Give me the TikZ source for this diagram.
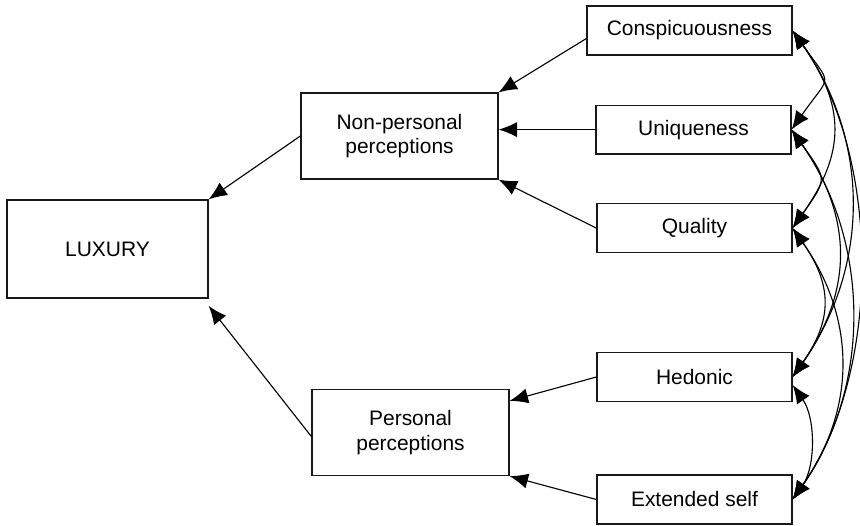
\documentclass[tikz,border=0pt]{standalone}
\usepackage{fontspec}
\setmainfont{Liberation Sans}
\usetikzlibrary{arrows.meta,positioning}
\tikzset{
  concept/.style={
    % The shape:
    rectangle,
    % The size:
    minimum width=4.925cm, minimum height=2.15cm,
    % The border:
    draw=black!90, line width=0.9pt,
    % Font
    font=\fontsize{14.9}{17.2}\selectfont, align=center
  },
  item/.style={
    % The shape:
    concept,
    % The size:
    minimum width=4.875cm, minimum height=1.22cm
  },
  corr/.style={draw, line width=0.8pt,
    {Latex[length=4.6mm,width=3.8mm]}-{Latex[length=4.6mm,width=3.8mm]}}
}
\tikzstyle{line} = [draw, line width=0.8pt, -{Latex[length=4.6mm,width=3.8mm]}]

\begin{document}
\begin{tikzpicture}
\useasboundingbox (-2.6875,6.225) rectangle (18.8125,-6.9);
\node [concept, minimum width=5.025cm, minimum height=2.45cm] (lux) {LUXURY};
\node [concept, right of=lux, node distance=7.3cm, yshift=2.825cm] (nonper) {Non-personal\\perceptions};
\node [concept, below of=nonper, node distance=7.4125cm, xshift=2.75mm] (per) {Personal\\perceptions};
\node [item, right of=nonper, node distance=7.25cm, yshift=2.6375cm, minimum width=5.125cm] (consp) {Conspicuousness};
\node [item, right of=nonper, node distance=7.35cm, yshift=1.6mm] (uniq) {Uniqueness};
\node [item, below of=uniq, node distance=2.4625cm, xshift=0.25mm] (qual) {Quality};
\node [item, right of=per, node distance=7.1cm, yshift=1.3875cm] (hed) {Hedonic};
\node [item, below of=hed, node distance=3.0625cm] (ext) {Extended self};
% Draw edges
\path [line] (nonper.west) -- (lux.north east);
\path [line] ([yshift=-1mm]per.west) -- ([yshift=-1.8mm]lux.south east);
\path [line] ([yshift=-2mm]consp.west) -- (nonper.north east);
\path [line] (uniq.west) -- (uniq.west -| nonper.east);
\path [line] (qual.west) -- (nonper.south east);
\path [line] (hed.west) -- ([yshift=-3mm]per.north east);
\path [line] (ext.west) -- (per.south east);
% Correlations
\foreach \a/\b/\l in {consp/uniq/1.8, consp/qual/1.2, consp/hed/1, consp/ext/0.85,
                      uniq/qual/1.6, uniq/hed/1.1, uniq/ext/0.95,
                      qual/hed/1.2, qual/ext/1.05}
  \path [corr] (\a.east) to [out=-55, in=55, looseness=\l] (\b.east);
\path [corr] ([yshift=-2mm]hed.east) to [out=-55, in=55, looseness=0.9] (ext.east);
\end{tikzpicture}
\end{document}
